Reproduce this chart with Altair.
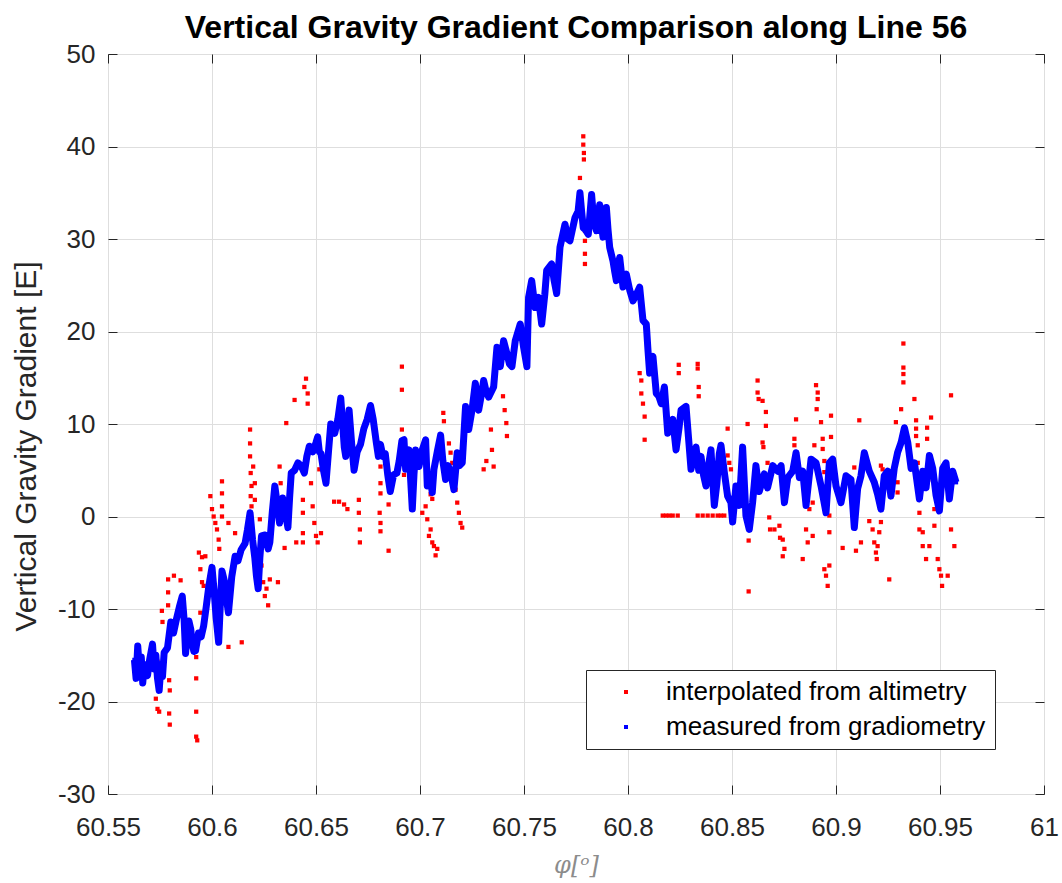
import altair as alt
import pandas as pd

# ---------------- data ----------------
XTICKS = [60.55, 60.6, 60.65, 60.7, 60.75, 60.8, 60.85, 60.9, 60.95, 61.0]
YTICKS = [-30, -20, -10, 0, 10, 20, 30, 40, 50]

SERIES = ["interpolated from altimetry", "measured from gradiometry"]

# measured from gradiometry (blue)
blue_x = [
    60.5627, 60.5635, 60.5643, 60.5652, 60.5660, 60.5667, 60.5675, 60.5690, 60.5700, 60.5714,
    60.5722, 60.5730, 60.5738, 60.5746, 60.5755, 60.5762, 60.5770, 60.5786, 60.5802, 60.5815,
    60.5830, 60.5845, 60.5857, 60.5866, 60.5873, 60.5881, 60.5889, 60.5898, 60.5905, 60.5913,
    60.5921, 60.5935, 60.5948, 60.5960, 60.5972, 60.5985, 60.6000, 60.6010, 60.6020, 60.6032,
    60.6040, 60.6048, 60.6060, 60.6070, 60.6079, 60.6095, 60.6111, 60.6125, 60.6140, 60.6159,
    60.6170, 60.6183, 60.6195, 60.6206, 60.6214, 60.6222, 60.6230, 60.6238, 60.6255, 60.6270,
    60.6278, 60.6290, 60.6302, 60.6313, 60.6325, 60.6340, 60.6352, 60.6365, 60.6373, 60.6381,
    60.6397, 60.6413, 60.6428, 60.6444, 60.6456, 60.6468, 60.6485, 60.6500, 60.6508, 60.6516,
    60.6524, 60.6536, 60.6548, 60.6560, 60.6571, 60.6590, 60.6605, 60.6619, 60.6628, 60.6636,
    60.6643, 60.6651, 60.6659, 60.6671, 60.6683, 60.6698, 60.6714, 60.6730, 60.6746, 60.6762,
    60.6775, 60.6790, 60.6800, 60.6810, 60.6822, 60.6833, 60.6845, 60.6857, 60.6873, 60.6889,
    60.6900, 60.6913, 60.6923, 60.6931, 60.6947, 60.6955, 60.6963, 60.6971, 60.6979, 60.6995,
    60.7011, 60.7027, 60.7035, 60.7047, 60.7059, 60.7067, 60.7083, 60.7099, 60.7110, 60.7123,
    60.7135, 60.7147, 60.7163, 60.7179, 60.7190, 60.7203, 60.7219, 60.7234, 60.7250, 60.7266,
    60.7282, 60.7294, 60.7306, 60.7318, 60.7330, 60.7354, 60.7370, 60.7386, 60.7402, 60.7418,
    60.7430, 60.7442, 60.7458, 60.7482, 60.7498, 60.7514, 60.7522, 60.7537, 60.7553, 60.7569,
    60.7585, 60.7600, 60.7609, 60.7633, 60.7645, 60.7657, 60.7673, 60.7697, 60.7710, 60.7721,
    60.7745, 60.7760, 60.7769, 60.7777, 60.7785, 60.7795, 60.7809, 60.7825, 60.7835, 60.7848,
    60.7856, 60.7864, 60.7872, 60.7880, 60.7888, 60.7896, 60.7904, 60.7912, 60.7928, 60.7936,
    60.7944, 60.7960, 60.7976, 60.7992, 60.8008, 60.8024, 60.8040, 60.8056, 60.8072, 60.8088,
    60.8096, 60.8104, 60.8112, 60.8120, 60.8136, 60.8148, 60.8160, 60.8175, 60.8191, 60.8203,
    60.8215, 60.8231, 60.8245, 60.8255, 60.8279, 60.8291, 60.8303, 60.8315, 60.8327, 60.8340,
    60.8351, 60.8363, 60.8375, 60.8387, 60.8399, 60.8407, 60.8415, 60.8427, 60.8439, 60.8447,
    60.8463, 60.8479, 60.8495, 60.8503, 60.8519, 60.8535, 60.8551, 60.8567, 60.8583, 60.8599,
    60.8615, 60.8631, 60.8655, 60.8671, 60.8696, 60.8720, 60.8736, 60.8752, 60.8768, 60.8792,
    60.8808, 60.8824, 60.8840, 60.8856, 60.8880, 60.8904, 60.8928, 60.8952, 60.8968, 60.8984,
    60.9000, 60.9024, 60.9048, 60.9072, 60.9088, 60.9104, 60.9120, 60.9136, 60.9160, 60.9184,
    60.9200, 60.9216, 60.9232, 60.9248, 60.9264, 60.9280, 60.9296, 60.9313, 60.9329, 60.9345,
    60.9361, 60.9377, 60.9401, 60.9417, 60.9433, 60.9449, 60.9465, 60.9481, 60.9497, 60.9513,
    60.9529, 60.9545, 60.9561, 60.9577,
]
blue_y = [
    -15.5, -17.5, -14.0, -16.8, -15.2, -18.0, -16.0, -17.2, -15.5, -13.8,
    -16.5, -15.0, -17.5, -18.8, -16.0, -17.3, -14.7, -14.2, -11.4, -12.6,
    -11.0, -9.6, -8.6, -11.2, -14.8, -12.5, -11.3, -12.2, -13.8, -14.6,
    -14.5, -12.6, -13.0, -11.8, -9.8, -7.5, -5.5, -8.0, -11.0, -13.6,
    -9.5, -5.9, -7.0, -9.0, -10.4, -6.5, -4.3, -4.8, -3.6, -2.9,
    -1.5, 0.4, -2.5, -4.5, -6.5, -7.8, -4.5, -2.1, -2.0, -3.5,
    -2.8, 0.5, 3.3, 1.5, -0.7, 2.0, 0.5, -1.2, 2.0, 4.7,
    5.0, 5.8, 5.5, 4.7, 6.5, 7.6, 7.0, 8.0, 8.6, 7.0,
    6.8, 5.0, 3.6, 7.0, 10.0, 9.0, 10.5, 12.8, 10.0, 7.5,
    6.5, 9.5, 11.5, 8.0, 5.0, 7.0, 7.8, 9.5, 10.5, 12.0,
    10.5, 8.0, 6.5, 7.8, 6.5, 6.8, 4.5, 2.7, 4.5, 4.7,
    6.0, 8.2, 8.3, 5.1, 7.2, 4.0, 0.8, 4.5, 7.2, 5.4,
    7.2, 8.3, 3.3, 4.5, 2.6, 5.1, 7.0, 8.8, 6.0, 4.0,
    5.5, 4.8, 2.9, 6.9, 5.5, 5.8, 11.9, 9.4, 11.5, 14.4,
    11.5, 13.0, 14.7, 13.5, 12.9, 14.0, 18.3, 16.2, 19.0, 17.6,
    16.5, 16.2, 19.0, 20.8, 18.3, 16.2, 23.7, 25.5, 22.6, 23.7,
    20.8, 24.0, 26.6, 27.3, 25.5, 24.1, 29.1, 31.6, 30.0, 29.8,
    32.3, 33.0, 35.0, 33.0, 31.2, 31.0, 30.5, 34.8, 32.0, 30.9,
    32.5, 33.7, 31.5, 30.2, 31.5, 33.4, 31.0, 29.1, 27.6, 26.5,
    25.5, 28.0, 24.8, 26.2, 24.5, 23.3, 24.0, 24.8, 21.2, 20.8,
    18.0, 15.5, 17.0, 17.3, 13.3, 13.0, 12.2, 14.0, 9.0, 10.0,
    10.5, 7.2, 9.5, 11.5, 11.9, 8.5, 5.1, 6.5, 7.5, 5.0,
    6.5, 4.5, 3.3, 5.5, 7.2, 4.0, 1.2, 3.5, 6.8, 7.7,
    4.8, 2.2, 1.5, -0.6, 3.3, 1.2, 7.5, 0.1, -1.4, 1.5,
    5.5, 2.7, 4.6, 3.1, 5.5, 4.9, 5.5, 1.5, 4.2, 4.9,
    6.9, 4.2, 4.9, 1.2, 6.2, 5.8, 3.3, 0.4, 5.8, 6.2,
    3.3, 1.5, 4.4, 4.0, -1.2, 3.0, 4.4, 6.9, 4.9, 3.7,
    2.4, 0.8, 4.4, 4.9, 2.2, 5.2, 6.9, 8.0, 9.6, 8.0,
    5.2, 5.8, 1.9, 4.9, 3.1, 6.6, 5.2, 2.3, 0.6, 5.2,
    5.8, 1.9, 4.9, 3.7,
]

# interpolated from altimetry (red)
red_x = [
    60.5738, 60.5738, 60.5730, 60.5738, 60.5746, 60.5759, 60.5762, 60.5789, 60.5789, 60.5789,
    60.5794, 60.5794, 60.5797, 60.5794, 60.5797, 60.5817, 60.5849, 60.5924, 60.5924, 60.5924,
    60.5924, 60.5929, 60.5937, 60.5952, 60.5968, 60.5944, 60.5952, 60.5960, 60.5944, 60.5992,
    60.6000, 60.6008, 60.6016, 60.6024, 60.6032, 60.6035, 60.6048, 60.6048, 60.6048, 60.6048,
    60.6079, 60.6111, 60.6079, 60.6143, 60.6183, 60.6183, 60.6183, 60.6186, 60.6190, 60.6186,
    60.6190, 60.6198, 60.6206, 60.6206, 60.6230, 60.6238, 60.6246, 60.6254, 60.6270, 60.6262,
    60.6278, 60.6317, 60.6325, 60.6330, 60.6333, 60.6349, 60.6357, 60.6397, 60.6405, 60.6437,
    60.6437, 60.6437, 60.6437, 60.6444, 60.6452, 60.6460, 60.6460, 60.6476, 60.6484, 60.6492,
    60.6500, 60.6508, 60.6524, 60.6516, 60.6587, 60.6611, 60.6635, 60.6651, 60.6706, 60.6706,
    60.6711, 60.6711, 60.6810, 60.6810, 60.6810, 60.6806, 60.6810, 60.6810, 60.6849, 60.6849,
    60.6913, 60.6913, 60.6913, 60.6923, 60.7011, 60.7027, 60.7035, 60.7043, 60.7051, 60.7059,
    60.7067, 60.7075, 60.7083, 60.7059, 60.7051, 60.7112, 60.7115, 60.7139, 60.7147, 60.7155,
    60.7171, 60.7179, 60.7187, 60.7195, 60.7203, 60.7306, 60.7319, 60.7341, 60.7346, 60.7354,
    60.7399, 60.7407, 60.7415, 60.7418, 60.7785, 60.7785, 60.7788, 60.7788, 60.7769, 60.7793,
    60.7793, 60.7793, 60.7793, 60.8056, 60.8064, 60.8064, 60.8072, 60.8080, 60.8080, 60.8244,
    60.8244, 60.8335, 60.8335, 60.8340, 60.8340, 60.8167, 60.8183, 60.8199, 60.8215, 60.8239,
    60.8335, 60.8359, 60.8383, 60.8407, 60.8431, 60.8447, 60.8463, 60.8479, 60.8479, 60.8487,
    60.8495, 60.8575, 60.8580, 60.8580, 60.8623, 60.8623, 60.8628, 60.8647, 60.8663, 60.8663,
    60.8647, 60.8651, 60.8671, 60.8679, 60.8683, 60.8704, 60.8728, 60.8731, 60.8744, 60.8744,
    60.8752, 60.8800, 60.8800, 60.8808, 60.8840, 60.8872, 60.8888, 60.8856, 60.8864, 60.8888,
    60.8904, 60.8912, 60.8912, 60.8907, 60.8896, 60.8928, 60.8936, 60.8936, 60.8944, 60.8952,
    60.8960, 60.8968, 60.8968, 60.8968, 60.8976, 60.8976, 60.8944, 60.8944, 60.9032, 60.9088,
    60.9096, 60.9120, 60.9112, 60.9160, 60.9176, 60.9184, 60.9192, 60.9196, 60.9200, 60.9208,
    60.9216, 60.9224, 60.9216, 60.9256, 60.9288, 60.9296, 60.9296, 60.9324, 60.9324, 60.9324,
    60.9324, 60.9313, 60.9377, 60.9385, 60.9385, 60.9385, 60.9393, 60.9393, 60.9401, 60.9401,
    60.9417, 60.9417, 60.9433, 60.9449, 60.9438, 60.9438, 60.9457, 60.9465, 60.9473, 60.9473,
    60.9489, 60.9497, 60.9505, 60.9510, 60.9537, 60.9553, 60.9553, 60.9569,
]
red_y = [
    -15.7, -17.9, -19.7, -20.8, -21.1, -10.2, -11.4, -6.8, -8.2, -9.6,
    -11.8, -17.7, -18.8, -21.3, -22.5, -6.4, -6.9, -15.2, -17.5, -21.1,
    -23.8, -24.2, -3.9, -4.4, -4.3, -5.7, -7.1, -7.5, -10.4, 2.2,
    0.8, 0.0, -0.7, -1.4, -2.5, -3.5, 3.8, 2.5, 1.1, 0.0,
    -0.7, -1.8, -14.1, -13.6, 9.4, 7.9, 6.5, 4.7, 3.3, 2.2,
    1.1, 5.4, 3.6, 1.8, -0.3, -5.3, -7.1, -8.6, -9.6, -7.8,
    -6.8, -7.1, 5.4, 3.6, 0.8, -3.4, 10.1, 12.6, -2.8, 1.8,
    0.4, -1.8, -2.8, 14.0, 14.9, 13.3, 12.2, 3.6, 1.1, -0.7,
    -2.1, -2.8, -1.8, 5.1, 1.6, 1.6, 1.3, 0.8, 1.8, 0.4,
    -1.4, -2.8, 5.4, 3.6, 2.5, 0.4, -0.7, -1.6, 1.3, -3.7,
    16.2, 13.7, 9.4, 4.5, 0.4, 1.1, -0.3, -2.1, -1.4, -2.8,
    -3.2, -4.2, -3.5, 1.9, 2.4, 11.2, 10.3, 7.9, 6.9, 5.8,
    2.9, 1.5, 0.4, -0.7, -1.2, 5.1, 6.0, 9.4, 7.2, 5.4,
    13.0, 11.5, 10.1, 8.7, 41.1, 40.2, 39.3, 38.6, 36.6, 30.9,
    29.8, 28.4, 27.3, 15.5, 14.7, 13.3, 12.2, 10.8, 8.3, 16.4,
    15.5, 16.5, 16.0, 14.0, 13.0, 0.1, 0.1, 0.1, 0.1, 0.1,
    0.1, 0.1, 0.1, 0.1, 0.1, 0.1, 0.1, 9.5, 6.6, 5.8,
    5.1, 10.0, -2.6, -8.1, 14.7, 13.4, 12.7, 12.5, 11.3, 9.8,
    8.0, 7.5, 5.8, -0.1, -1.4, -1.4, -1.0, -2.3, -2.5, -4.3,
    -3.5, 8.4, 7.7, 10.5, -4.6, 0.8, 1.5, -1.4, -2.8, -2.1,
    14.2, 13.4, 12.7, 11.6, 7.7, 10.2, 8.4, 7.3, -5.7, -6.4,
    -7.5, -5.3, 0.1, -1.7, 10.9, 8.6, 6.0, 4.8, -3.4, 5.3,
    -3.7, -2.8, 10.4, -0.5, -1.4, -2.8, -3.9, -4.6, -3.2, -1.7,
    -0.6, 5.1, 5.5, -6.8, 10.2, 3.7, 2.6, 18.7, 16.1, 15.4,
    14.5, 11.6, 12.7, 10.4, 9.5, 8.7, 7.7, 5.8, 0.4, -1.4,
    -1.7, -3.2, -4.6, -3.2, 9.6, 8.4, 10.7, 4.0, 0.8, -1.0,
    -4.6, -5.7, -6.4, -7.5, -6.4, 13.1, -1.4, -3.2,
]

# ---------------- tables ----------------
red_df = pd.DataFrame({"x": red_x, "y": red_y, "series": SERIES[0]})
blue_df = pd.DataFrame({"x": blue_x, "y": blue_y, "series": SERIES[1]})
points_df = pd.concat([red_df, blue_df], ignore_index=True)
points_df["i"] = range(len(points_df))
blue_df["i"] = range(len(blue_df))

FONT = "Liberation Sans"
TXT = "#262626"
xs = alt.Scale(domain=[60.55, 61.0], nice=False, zero=False)
ys = alt.Scale(domain=[-30, 50], nice=False, zero=False)

# grid layer (behind everything)
grid = alt.Chart(red_df).mark_point(opacity=0).encode(
    x=alt.X("x:Q", scale=xs, axis=alt.Axis(
        orient="bottom", values=XTICKS, grid=True, gridColor="#dedede", gridWidth=1,
        ticks=False, labels=False, domain=False, title=None)),
    y=alt.Y("y:Q", scale=ys, axis=alt.Axis(
        orient="left", values=YTICKS, grid=True, gridColor="#dedede", gridWidth=1,
        ticks=False, labels=False, domain=False, title=None)),
)

# scatter points, bottom/left axes with inward ticks, legend
points = alt.Chart(points_df).mark_square(size=18, opacity=1).encode(
    x=alt.X("x:Q", scale=xs, axis=alt.Axis(
        orient="bottom", values=XTICKS, format="~g", offset=-9, tickSize=9,
        tickColor=TXT, domain=False, grid=False,
        labelFont=FONT, labelFontSize=26, labelColor=TXT, labelPadding=20,
        labelFlush=False, labelOverlap=False,
        title="φ[ᵒ]", titleFont="DejaVu Serif", titleFontStyle="italic",
        titleFontWeight="normal", titleFontSize=24, titleColor="#8c8c8c",
        titleX=468, titleY=87, titleBaseline="alphabetic", titleAlign="center")),
    y=alt.Y("y:Q", scale=ys, axis=alt.Axis(
        orient="left", values=YTICKS, format="d", offset=-9, tickSize=9,
        tickColor=TXT, domain=False, grid=False,
        labelExpr="replace(datum.label, '\u2212', '-')",
        labelFont=FONT, labelFontSize=26, labelColor=TXT, labelPadding=13,
        labelFlush=False, labelOverlap=False,
        title="Vertical Gravity Gradient [E]", titleFont=FONT,
        titleFontWeight="normal", titleFontSize=30, titleColor=TXT,
        titleAngle=270, titleX=-82, titleY=392, titleBaseline="alphabetic",
        titleAlign="center")),
    color=alt.Color("series:N", scale=alt.Scale(domain=SERIES, range=["#ff0000", "#0000ff"]),
                    legend=alt.Legend(
                        title=None, orient="none", legendX=478, legendY=616,
                        direction="vertical", symbolType="square", symbolSize=16,
                        symbolStrokeWidth=0, symbolOffset=18, labelOffset=27,
                        labelLimit=500,
                        labelFont=FONT, labelFontSize=26, labelColor="#000000",
                        padding=9, rowPadding=9, strokeColor=TXT, fillColor="white",
                        cornerRadius=0)),
    order="i:Q",
)

# gradiometry trace drawn as a thick band, with top/right inward ticks
trace = alt.Chart(blue_df).mark_line(color="#0000ff", strokeWidth=7, strokeJoin="round").encode(
    x=alt.X("x:Q", scale=xs, axis=alt.Axis(
        orient="top", values=XTICKS, offset=-9, tickSize=9, tickColor=TXT,
        labels=False, domain=False, grid=False, title=None)),
    y=alt.Y("y:Q", scale=ys, axis=alt.Axis(
        orient="right", values=YTICKS, offset=-9, tickSize=9, tickColor=TXT,
        labels=False, domain=False, grid=False, title=None)),
    order="i:Q",
)

chart = alt.layer(grid, points, trace).resolve_axis(
    x="independent", y="independent"
).properties(
    width=936,
    height=740,
    padding={"left": 108, "top": 54, "right": 18, "bottom": 89},
    autosize=alt.AutoSizeParams(type="none"),
    title=alt.TitleParams(
        text="Vertical Gravity Gradient Comparison along Line 56",
        font=FONT, fontSize=32, fontWeight="bold", color="#000000",
        anchor="middle", offset=16, dy=45, baseline="alphabetic"),
).configure_view(stroke=TXT, strokeWidth=1)

chart.save("out.html", embed_options={"renderer": "svg", "actions": False})
